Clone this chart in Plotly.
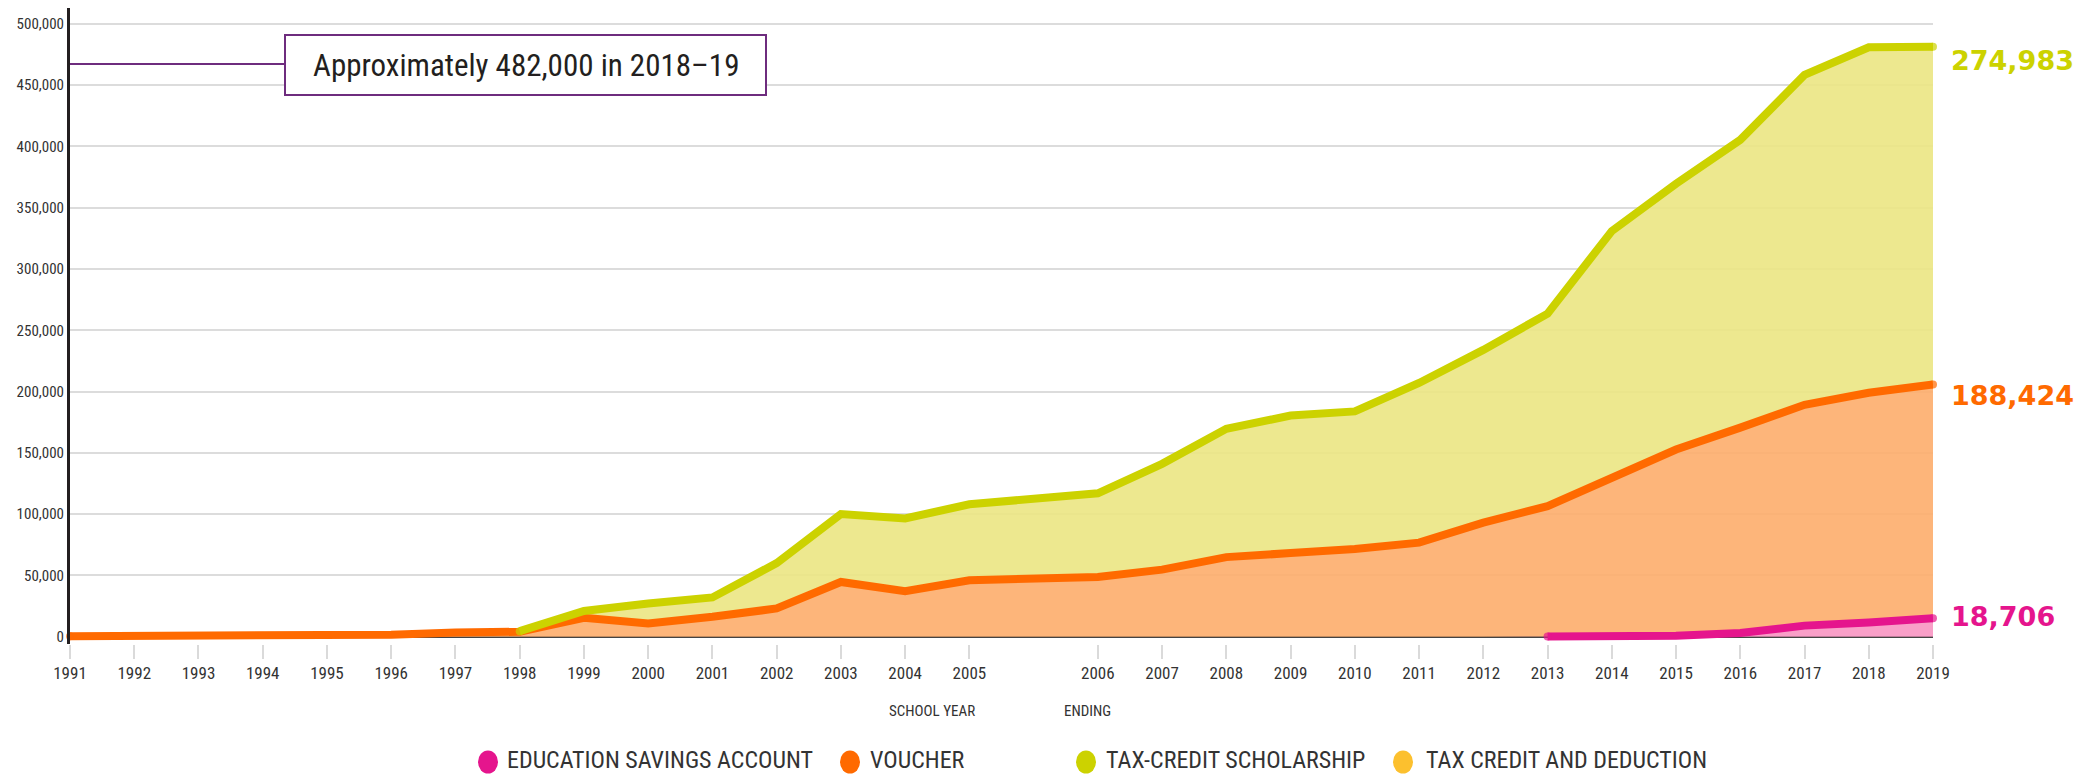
import plotly.graph_objects as go

# ---------------- data ----------------
years = ['1991', '1992', '1993', '1994', '1995', '1996', '1997', '1998', '1999', '2000',
         '2001', '2002', '2003', '2004', '2005', '2006', '2007', '2008', '2009', '2010',
         '2011', '2012', '2013', '2014', '2015', '2016', '2017', '2018', '2019']

esa = [None, None, None, None, None, None, None, None, None, None,
       None, None, None, None, None, None, None, None, None, None,
       None, None, 100, 300, 700, 3000, 9000, 11500, 15000]

voucher = [300, 500, 700, 800, 800, 1600, 3400, 4000, 15400, 10800,
           16200, 23000, 44600, 37000, 46000, 48600, 54700, 64900, 68200, 71600,
           76700, 93000, 106400, 128700, 152000, 167600, 180200, 187500, 190700]

tax_credit_scholarship = [None, None, None, None, None, None, None, 500, 5600, 16200,
                          15800, 37000, 55400, 59500, 62000, 68400, 86300, 104700, 112200, 112200,
                          130300, 141000, 157100, 202000, 216900, 234800, 269200, 282000, 275700]

series_names = ['EDUCATION SAVINGS ACCOUNT', 'VOUCHER', 'TAX-CREDIT SCHOLARSHIP', 'TAX CREDIT AND DEDUCTION']
end_labels = ['18,706', '188,424', '274,983']
y_ticks = [0, 50000, 100000, 150000, 200000, 250000, 300000, 350000, 400000, 450000, 500000]
note_text = 'Approximately 482,000 in 2018\u201319'
axis_title = ['SCHOOL YEAR', 'ENDING']

# ---------------- styles ----------------
LINE_COLORS = ['#E5158D', '#FF6A00', '#CCD200', '#FCC02E']
FILL_COLORS = ['rgba(248,149,194,0.9)', 'rgba(253,173,107,0.9)', 'rgba(235,229,131,0.9)']
NARROW = 'Liberation Sans Narrow, Roboto Condensed, Arial Narrow, Roboto, sans-serif'
TXT = '#333333'
LW = 8

W, H = 2095, 774
ML, MR, MT, MB = 70, 162, 8, 130
PW, PH = W - ML - MR, H - MT - MB


def px(xp):
    return (xp - ML) / PW


def py(yp):
    return (H - MB - yp) / PH


cat_order = years[:15] + [' '] + years[15:]

# cumulative (stacked) line values
esa_line = esa
vou_line = [(e or 0) + v for e, v in zip(esa, voucher)]
tcs_line = [None if t is None else vl + t for vl, t in zip(vou_line, tax_credit_scholarship)]


def cap_sizes(vals):
    idx = [i for i, v in enumerate(vals) if v is not None]
    return [LW if (i == idx[0] or i == idx[-1]) else 0 for i in range(len(vals))]


fig = go.Figure()

# stacked fills
for vals, fc in zip([esa, voucher, tax_credit_scholarship], FILL_COLORS):
    fig.add_trace(go.Scatter(
        x=years, y=[v or 0 for v in vals], stackgroup='s', mode='none',
        fillcolor=fc, hoverinfo='skip', showlegend=False))

# lines (orange, yellow, magenta on top)
for vals, col in [(vou_line, LINE_COLORS[1]), (tcs_line, LINE_COLORS[2]), (esa_line, LINE_COLORS[0])]:
    fig.add_trace(go.Scatter(
        x=years, y=vals, mode='lines+markers', connectgaps=False,
        line=dict(color=col, width=LW),
        marker=dict(size=cap_sizes(vals), color=col, line=dict(width=0)),
        cliponaxis=False, hoverinfo='skip', showlegend=False))

last_x = cat_order.index('2019')
ann = []
shapes = []

# end labels
for val, lab, col, ys in [(tcs_line[-1], end_labels[2], LINE_COLORS[2], -14),
                          (vou_line[-1], end_labels[1], LINE_COLORS[1], -11),
                          (esa_line[-1], end_labels[0], LINE_COLORS[0], 2)]:
    ann.append(dict(x=last_x, y=val, xref='x', yref='y', text=lab, showarrow=False,
                    xanchor='left', yanchor='middle', xshift=16, yshift=ys,
                    font=dict(family='DejaVu Sans', size=27, color=col, weight='bold')))

# callout box
shapes.append(dict(type='line', xref='paper', yref='paper', x0=px(70), x1=px(285),
                   y0=py(64), y1=py(64), line=dict(color='#6E2C7E', width=2)))
shapes.append(dict(type='rect', xref='paper', yref='paper', x0=px(285), x1=px(766),
                   y0=py(95), y1=py(35), fillcolor='white',
                   line=dict(color='#6E2C7E', width=2)))
ann.append(dict(x=px(525.5), y=py(65), xref='paper', yref='paper', text=note_text,
                showarrow=False, xanchor='center', yanchor='middle',
                font=dict(family=NARROW, size=31, color='#231F20')))

# axis title pieces
ann.append(dict(x=px(932), y=py(711), xref='paper', yref='paper', text=axis_title[0],
                showarrow=False, xanchor='center', yanchor='middle',
                font=dict(family=NARROW, size=15, color=TXT)))
ann.append(dict(x=px(1087), y=py(711), xref='paper', yref='paper', text=axis_title[1],
                showarrow=False, xanchor='center', yanchor='middle',
                font=dict(family=NARROW, size=15, color=TXT)))

# manual legend
leg_marker_x = [488, 850, 1086, 1403]
leg_text_x = [506, 869, 1105, 1425]
leg_y = 762
for name, col, mx, tx in zip(series_names, LINE_COLORS, leg_marker_x, leg_text_x):
    shapes.append(dict(type='circle', xref='paper', yref='paper',
                       x0=px(mx - 10), x1=px(mx + 10), y0=py(leg_y + 11.5), y1=py(leg_y - 11.5),
                       fillcolor=col, line=dict(width=0)))
    ann.append(dict(x=px(tx), y=py(leg_y - 2), xref='paper', yref='paper', text=name,
                    showarrow=False, xanchor='left', yanchor='middle', borderpad=0,
                    font=dict(family=NARROW, size=24, color=TXT)))

fig.update_layout(
    width=W, height=H,
    margin=dict(l=ML, r=MR, t=MT, b=MB, autoexpand=False),
    paper_bgcolor='white', plot_bgcolor='white',
    showlegend=False,
    annotations=ann, shapes=shapes,
    xaxis=dict(type='category', categoryorder='array', categoryarray=cat_order,
               range=[0, len(cat_order) - 1], tickmode='array', tickvals=years, ticktext=years,
               showgrid=False, showline=False, zeroline=False,
               ticks='outside', ticklen=14, tickwidth=2, tickcolor='#DADADA',
               tickfont=dict(family=NARROW, size=17, color=TXT)),
    yaxis=dict(range=[-6000, 513000], tickmode='array', tickvals=y_ticks,
               tickformat=',', showgrid=True, gridcolor='#DCDCDC', gridwidth=2,
               zeroline=True, zerolinecolor='#444444', zerolinewidth=2,
               showline=True, linecolor='#231F20', linewidth=3,
               ticks='', tickfont=dict(family=NARROW, size=15, color=TXT)),
)

fig.write_html('out.html', config={'displayModeBar': False},
               post_script="document.body.style.margin='0';document.body.style.overflow='hidden';")
